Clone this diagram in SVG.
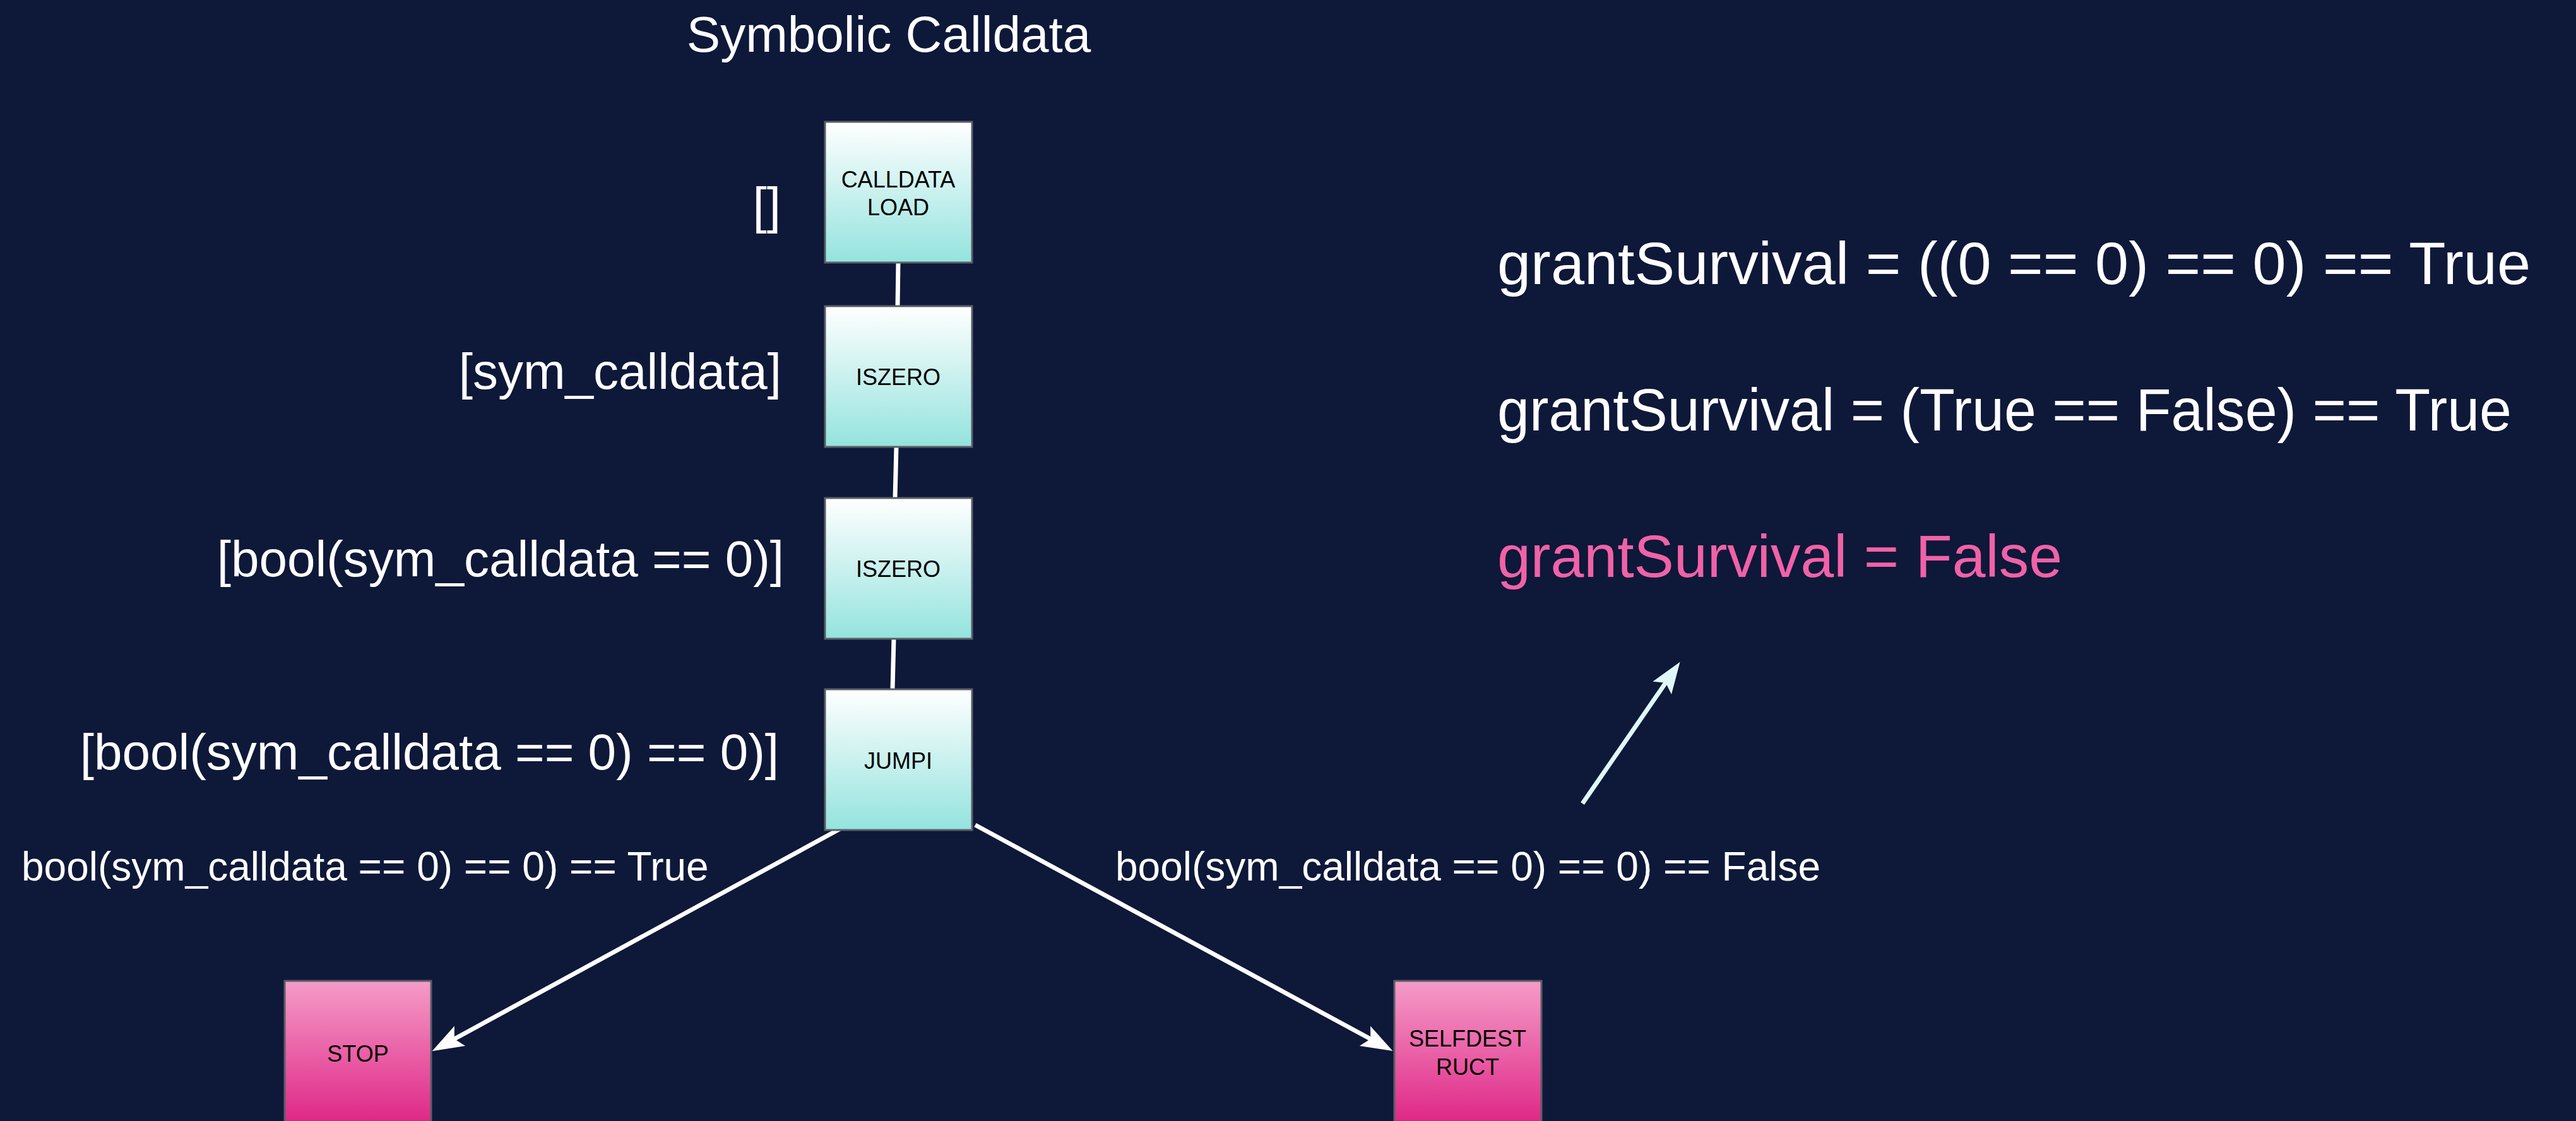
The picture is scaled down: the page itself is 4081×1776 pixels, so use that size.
<svg xmlns="http://www.w3.org/2000/svg" width="4081" height="1776" viewBox="0 0 4081 1776">
  <style>
    text { font-family: "Liberation Sans", Arial, sans-serif; }
    .title { font-size: 80px; fill: #ffffff; text-anchor: middle; }
    .stack { font-size: 80px; fill: #ffffff; text-anchor: end; }
    .eq { font-size: 95px; fill: #ffffff; }
    .eq-false { font-size: 95px; fill: #f062a8; }
    .branch { font-size: 64px; fill: #ffffff; }
    .op { font-size: 36px; fill: #000000; text-anchor: middle; }
    .box-cyan { fill: url(#gradCyan); stroke: #5a5f66; stroke-width: 3; }
    .box-pink { fill: url(#gradPink); stroke: #5a5f66; stroke-width: 3; }
    .link { stroke: #ffffff; stroke-width: 7; fill: none; }
    .arrow { stroke: #ffffff; stroke-width: 7; fill: none; marker-end: url(#headWhite); }
    .arrow-cyan { stroke: #e0f8f8; stroke-width: 7; fill: none; marker-end: url(#headCyan); }
  </style>
  <defs>
    <linearGradient id="gradCyan" x1="0" y1="0" x2="0" y2="1">
      <stop offset="0" stop-color="#ffffff"/>
      <stop offset="1" stop-color="#94e3de"/>
    </linearGradient>
    <linearGradient id="gradPink" x1="0" y1="0" x2="0" y2="1">
      <stop offset="0" stop-color="#f59cc8"/>
      <stop offset="1" stop-color="#df2887"/>
    </linearGradient>
    <marker id="headWhite" markerUnits="userSpaceOnUse" markerWidth="54" markerHeight="40" viewBox="0 0 54 40" refX="14" refY="20" orient="auto">
      <path d="M2,2 L52,20 L2,38 L12,20 Z" fill="#ffffff"/>
    </marker>
    <marker id="headCyan" markerUnits="userSpaceOnUse" markerWidth="54" markerHeight="40" viewBox="0 0 54 40" refX="14" refY="20" orient="auto">
      <path d="M2,2 L52,20 L2,38 L12,20 Z" fill="#e0f8f8"/>
    </marker>
  </defs>

  <rect x="0" y="0" width="4081" height="1776" fill="#0e1839"/>

  <text class="title" x="1408" y="82">Symbolic Calldata</text>

  <g id="connectors">
    <line class="link" x1="1423" y1="416" x2="1422" y2="485"/>
    <line class="link" x1="1420" y1="708" x2="1418" y2="789"/>
    <line class="link" x1="1416" y1="1012" x2="1414" y2="1092"/>
    <line class="arrow" x1="1342" y1="1307" x2="718" y2="1647"/>
    <line class="arrow" x1="1545" y1="1307" x2="2173" y2="1647"/>
    <line class="arrow-cyan" x1="2507" y1="1273" x2="2640" y2="1080"/>
  </g>

  <g id="node-calldataload">
    <rect class="box-cyan" x="1307" y="193" width="233" height="223"/>
    <text class="op" x="1423" y="297">CALLDATA</text>
    <text class="op" x="1423" y="341">LOAD</text>
  </g>
  <g id="node-iszero1">
    <rect class="box-cyan" x="1307" y="485" width="233" height="223"/>
    <text class="op" x="1423" y="610">ISZERO</text>
  </g>
  <g id="node-iszero2">
    <rect class="box-cyan" x="1307" y="789" width="233" height="223"/>
    <text class="op" x="1423" y="914">ISZERO</text>
  </g>
  <g id="node-jumpi">
    <rect class="box-cyan" x="1307" y="1092" width="233" height="223"/>
    <text class="op" x="1423" y="1218">JUMPI</text>
  </g>
  <g id="node-stop">
    <rect class="box-pink" x="451" y="1554" width="232" height="223"/>
    <text class="op" x="567" y="1682">STOP</text>
  </g>
  <g id="node-selfdestruct">
    <rect class="box-pink" x="2209" y="1554" width="233" height="223"/>
    <text class="op" x="2325" y="1658">SELFDEST</text>
    <text class="op" x="2325" y="1703">RUCT</text>
  </g>

  <g id="stack-labels">
    <text class="stack" x="1237" y="353">[]</text>
    <text class="stack" x="1238" y="616">[sym_calldata]</text>
    <text class="stack" x="1242" y="913">[bool(sym_calldata == 0)]</text>
    <text class="stack" x="1234" y="1219">[bool(sym_calldata == 0) == 0)]</text>
  </g>

  <g id="branch-labels">
    <text class="branch" x="34" y="1395">bool(sym_calldata == 0) == 0) == True</text>
    <text class="branch" x="1767" y="1395">bool(sym_calldata == 0) == 0) == False</text>
  </g>

  <g id="equations">
    <text class="eq" x="2372" y="450" textLength="1637" lengthAdjust="spacingAndGlyphs">grantSurvival = ((0 == 0) == 0) == True</text>
    <text class="eq" x="2372" y="682" textLength="1607" lengthAdjust="spacingAndGlyphs">grantSurvival = (True == False) == True</text>
    <text class="eq-false" x="2372" y="914">grantSurvival = False</text>
  </g>
</svg>
